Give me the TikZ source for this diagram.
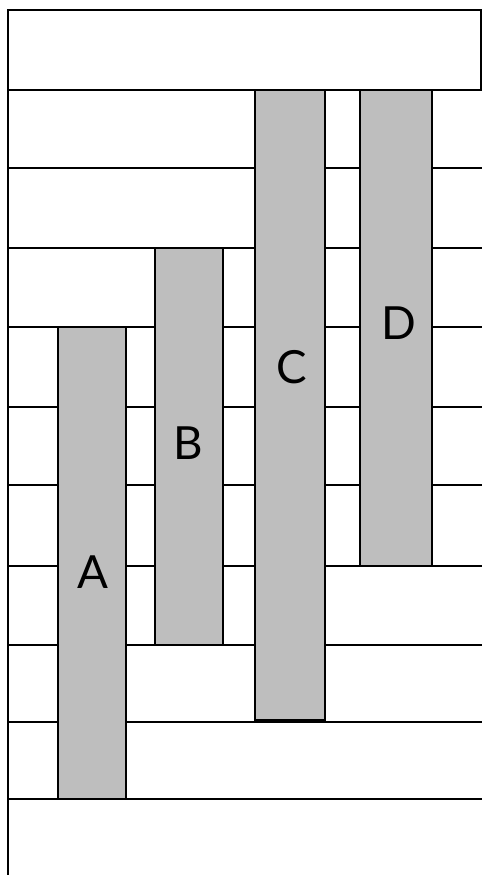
\documentclass[tikz,border=0pt]{standalone}
\usepackage{fontspec}
\setsansfont{Lato}
\definecolor{bargray}{RGB}{190,190,190}
\begin{document}
\begin{tikzpicture}[x=0.02cm,y=-0.02cm,line width=1.3pt,every node/.style={font=\sffamily\fontsize{26}{28}\selectfont},
  bar/.style={draw,fill=bargray,rectangle,inner sep=0}]
\useasboundingbox (0,0) rectangle (482,875);
\draw (8,875)--(8,10)--(482,10);
\draw (481,10)--(481,90);
\foreach \y in {90,168,248,327,407,485,566,645,722,799}
  \draw (8,\y)--(482,\y);
\node[bar,minimum width=68*0.02cm,minimum height=472*0.02cm] (barA) at (92,563) {};
\node[bar,minimum width=68*0.02cm,minimum height=397*0.02cm] (barB) at (189,446.5) {};
\node[bar,minimum width=70*0.02cm,minimum height=630*0.02cm] (barC) at (290,405) {};
\node[bar,minimum width=72*0.02cm,minimum height=476*0.02cm] (barD) at (396,328) {};
\node (A) at (93,572) {A};
\node (B) at (188,443) {B};
\node (C) at (292,367) {C};
\node (D) at (399,323) {D};
\end{tikzpicture}
\end{document}
